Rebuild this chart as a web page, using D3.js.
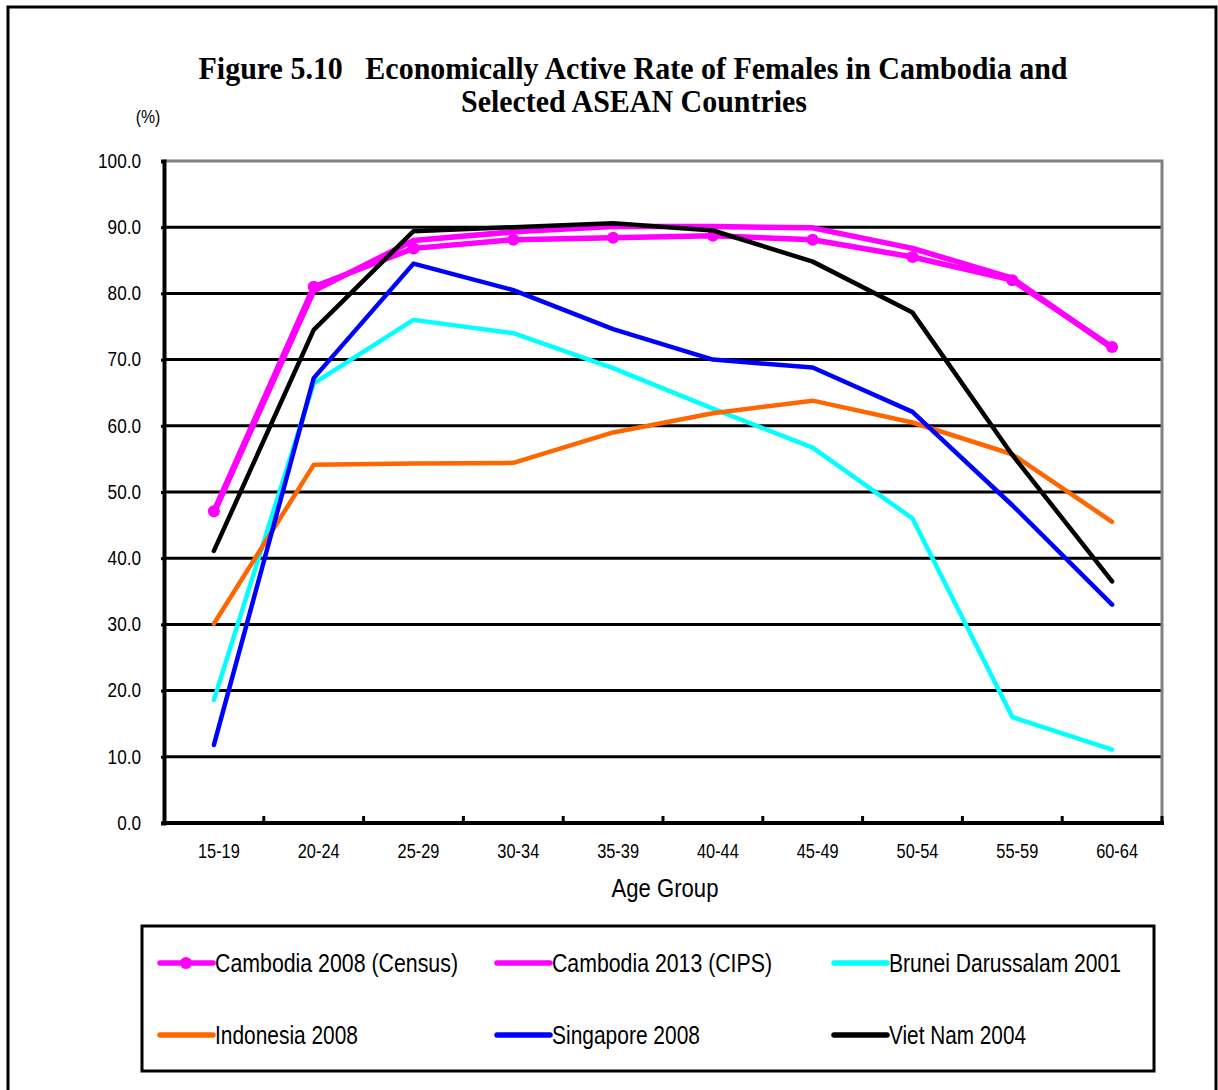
<!DOCTYPE html>
<html lang="en">
<head>
    <meta charset="UTF-8">
    <title>Figure 5.10</title>
    <style>
        body { margin: 0; background: #fff; }
        svg { display: block; }
        text { font-family: "Liberation Sans", Arial, sans-serif; fill: #000; }
        .title { font-family: "Liberation Serif", "Times New Roman", serif; font-weight: bold; font-size: 31px; white-space: pre; }
    </style>
</head>
<body>
    <script src="https://d3js.org/d3.v7.min.js"></script>
    <script type="text/javascript">
        // Age groups on the x axis
        var ageGroups = ["15-19", "20-24", "25-29", "30-34", "35-39", "40-44", "45-49", "50-54", "55-59", "60-64"];

        // series values (%)
        var cambodia2008 = [47.1, 81.0, 86.8, 88.1, 88.4, 88.7, 88.1, 85.5, 82.0, 71.9];
        var cambodia2013 = [46.8, 80.4, 88.0, 89.3, 90.1, 90.1, 89.9, 86.8, 82.3, 71.7];
        var brunei2001 = [18.6, 66.4, 76.0, 74.0, 68.7, 62.6, 56.7, 46.0, 16.0, 11.1];
        var indonesia2008 = [30.1, 54.1, 54.3, 54.4, 59.0, 61.9, 63.8, 60.5, 55.7, 45.5];
        var singapore2008 = [11.8, 67.2, 84.5, 80.5, 74.6, 70.0, 68.8, 62.1, 48.0, 33.0];
        var vietnam2004 = [41.1, 74.5, 89.4, 90.0, 90.6, 89.5, 84.8, 77.1, 55.6, 36.5];

        var seriesNames = ["Cambodia 2008 (Census)", "Cambodia 2013 (CIPS)", "Brunei Darussalam 2001",
                           "Indonesia 2008", "Singapore 2008", "Viet Nam 2004"];
        var seriesValues = [cambodia2008, cambodia2013, brunei2001, indonesia2008, singapore2008, vietnam2004];
        var seriesColors = ["#ff00ff", "#ff00ff", "#00ffff", "#ff6600", "#0000ff", "#000000"];
        var seriesWidths = [5.5, 5.5, 4.5, 4.5, 4.5, 4.5];
        var yTicks = [0, 10, 20, 30, 40, 50, 60, 70, 80, 90, 100];

        var width = 1218, height = 1090;
        var plotLeft = 164, plotRight = 1162, plotTop = 161, plotBottom = 823;

        var svg = d3.select("body").append("svg")
            .attr("width", width)
            .attr("height", height);

        // squeeze text horizontally (the original font is narrow and tall)
        function squeeze(sel, f) {
            sel.each(function() {
                var w = this.getComputedTextLength();
                d3.select(this).attr("textLength", w * f).attr("lengthAdjust", "spacingAndGlyphs");
            });
        }

        // outer frame
        svg.append("rect")
            .attr("x", 8).attr("y", 7)
            .attr("width", 1208).attr("height", 1200)
            .attr("fill", "none").attr("stroke", "#000").attr("stroke-width", 3);

        // title
        svg.append("text").attr("class", "title")
            .attr("x", 633).attr("y", 79).attr("text-anchor", "middle")
            .attr("textLength", 869).attr("lengthAdjust", "spacingAndGlyphs")
            .text("Figure 5.10   Economically Active Rate of Females in Cambodia and");
        svg.append("text").attr("class", "title")
            .attr("x", 634).attr("y", 112).attr("text-anchor", "middle")
            .attr("textLength", 346).attr("lengthAdjust", "spacingAndGlyphs")
            .text("Selected ASEAN Countries");

        var pct = svg.append("text")
            .attr("x", 148).attr("y", 123).attr("text-anchor", "middle")
            .style("font-size", "18px")
            .text("(%)");
        squeeze(pct, 0.88);

        var x = d3.scaleBand().domain(ageGroups).range([plotLeft, plotRight]);
        var y = d3.scaleLinear().domain([0, 100]).range([plotBottom, plotTop]);

        // gridlines
        svg.append("g").selectAll("line")
            .data(yTicks.filter(function(d) { return d > 0 && d < 100; }))
            .enter().append("line")
            .attr("x1", plotLeft).attr("x2", plotRight)
            .attr("y1", function(d) { return y(d); })
            .attr("y2", function(d) { return y(d); })
            .attr("stroke", "#000").attr("stroke-width", 3);

        // top and right border of plot area (grey)
        svg.append("path")
            .attr("d", "M" + plotLeft + "," + y(100) + "H" + plotRight + "V" + plotBottom)
            .attr("fill", "none").attr("stroke", "#808080").attr("stroke-width", 3);

        // y axis
        var yAxis = svg.append("g")
            .attr("transform", "translate(" + plotLeft + ",0)")
            .call(d3.axisLeft(y).tickValues(yTicks).tickFormat(d3.format(".1f")).tickSize(3).tickPadding(20));
        yAxis.select(".domain").attr("stroke", "#000").attr("stroke-width", 4);
        yAxis.selectAll(".tick line").attr("stroke", "#000").attr("stroke-width", 3);
        yAxis.selectAll("text").style("font-size", "19.5px").attr("fill", "#000").style("font-family", null);
        squeeze(yAxis.selectAll("text"), 0.88);

        // x axis: ticks between categories, pointing inward
        var xAxis = svg.append("g")
            .attr("transform", "translate(0," + plotBottom + ")");
        xAxis.append("line")
            .attr("x1", plotLeft - 2).attr("x2", plotRight + 2)
            .attr("stroke", "#000").attr("stroke-width", 4);
        xAxis.selectAll("line.tk")
            .data(ageGroups.slice(1).concat(["end"]))
            .enter().append("line").attr("class", "tk")
            .attr("x1", function(d) { return d === "end" ? plotRight : x(d); })
            .attr("x2", function(d) { return d === "end" ? plotRight : x(d); })
            .attr("y1", 0).attr("y2", -7)
            .attr("stroke", "#000").attr("stroke-width", 3);
        var xl = xAxis.selectAll("text")
            .data(ageGroups)
            .enter().append("text")
            .attr("x", function(d) { return x(d) + x.bandwidth() / 2 + 5; })
            .attr("y", 35)
            .attr("text-anchor", "middle")
            .style("font-size", "19.5px")
            .text(function(d) { return d; });
        squeeze(xl, 0.84);

        var xt = svg.append("text")
            .attr("x", 665).attr("y", 897)
            .attr("text-anchor", "middle")
            .style("font-size", "26px")
            .text("Age Group");
        squeeze(xt, 0.85);

        // series lines
        var line = d3.line()
            .x(function(d, i) { return x(ageGroups[i]) + x.bandwidth() / 2; })
            .y(function(d) { return y(d); });

        seriesValues.forEach(function(vals, k) {
            svg.append("path")
                .datum(vals)
                .attr("d", line)
                .attr("fill", "none")
                .attr("stroke", seriesColors[k])
                .attr("stroke-width", seriesWidths[k])
                .attr("stroke-linejoin", "round")
                .attr("stroke-linecap", "round");
            if (k === 0) {
                svg.append("g").selectAll("circle")
                    .data(vals)
                    .enter().append("circle")
                    .attr("cx", function(d, i) { return x(ageGroups[i]) + x.bandwidth() / 2; })
                    .attr("cy", function(d) { return y(d); })
                    .attr("r", 6)
                    .attr("fill", seriesColors[k]);
            }
        });

        // legend
        var legend = svg.append("g");
        legend.append("rect")
            .attr("x", 142).attr("y", 926)
            .attr("width", 1012).attr("height", 145)
            .attr("fill", "none").attr("stroke", "#000").attr("stroke-width", 3);

        var colX = [160, 497, 834];
        var rowY = [963, 1035];
        var legendWidths = [243, 220, 232, 143, 148, 137];

        var items = legend.selectAll("g.item")
            .data(seriesNames)
            .enter().append("g")
            .attr("class", "item")
            .attr("transform", function(d, i) {
                return "translate(" + colX[i % 3] + "," + rowY[Math.floor(i / 3)] + ")";
            });
        items.append("line")
            .attr("x1", 0).attr("x2", 53)
            .attr("stroke", function(d, i) { return seriesColors[i]; })
            .attr("stroke-width", 5.5)
            .attr("stroke-linecap", "round");
        items.filter(function(d, i) { return i === 0; })
            .append("circle")
            .attr("cx", 26).attr("r", 6)
            .attr("fill", seriesColors[0]);
        items.append("text")
            .attr("x", 55).attr("y", 9)
            .style("font-size", "25px")
            .attr("textLength", function(d, i) { return legendWidths[i]; })
            .attr("lengthAdjust", "spacingAndGlyphs")
            .text(function(d) { return d; });
    </script>
</body>
</html>
